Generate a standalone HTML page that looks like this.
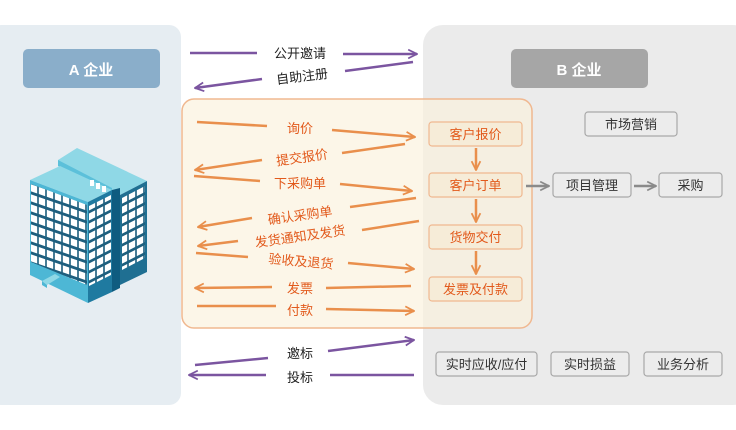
<!DOCTYPE html>
<html><head><meta charset="utf-8"><style>
html,body{margin:0;padding:0;background:#fff;}
svg{display:block;font-family:"Liberation Sans","Noto Sans CJK SC",sans-serif;}
</style></head><body>
<svg width="736" height="430" viewBox="0 0 736 430" xmlns="http://www.w3.org/2000/svg">
<defs>
<marker id="ao" viewBox="0 0 10 10" refX="9" refY="5" markerWidth="11" markerHeight="11" orient="auto" markerUnits="userSpaceOnUse"><path d="M1,1 L9,5 L1,9" fill="none" stroke="#e98f4c" stroke-width="1.6"/></marker>
<marker id="ap" viewBox="0 0 10 10" refX="9" refY="5" markerWidth="11" markerHeight="11" orient="auto" markerUnits="userSpaceOnUse"><path d="M1,1 L9,5 L1,9" fill="none" stroke="#7b55a0" stroke-width="1.6"/></marker>
<marker id="ag" viewBox="0 0 10 10" refX="9" refY="5" markerWidth="11" markerHeight="11" orient="auto" markerUnits="userSpaceOnUse"><path d="M1,1 L9,5 L1,9" fill="none" stroke="#8a8a8a" stroke-width="1.6"/></marker>
<pattern id="wl" width="8" height="10" patternUnits="userSpaceOnUse" patternTransform="translate(30,183) skewY(19)"><rect width="8" height="10" fill="#1e5f7e"/><rect x="0.8" y="1" width="6.4" height="7" fill="#fff"/></pattern>
<pattern id="wr" width="8" height="10" patternUnits="userSpaceOnUse" patternTransform="translate(88,203) skewY(-27)"><rect width="8" height="10" fill="#1e5f7e"/><rect x="0.8" y="1" width="6.4" height="7" fill="#fff"/></pattern>
</defs>
<rect x="-10" y="25" width="191" height="380" rx="12" fill="#e6edf2"/>
<rect x="423" y="25" width="330" height="380" rx="20" fill="#ebebeb"/>
<rect x="23" y="49" width="137" height="39" rx="5" fill="#8aaeca"/>
<text x="91" y="75" font-size="15" font-weight="bold" fill="#fff" text-anchor="middle">A 企业</text>
<rect x="511" y="49" width="137" height="39" rx="5" fill="#a6a6a6"/>
<text x="579" y="75" font-size="15" font-weight="bold" fill="#fff" text-anchor="middle">B 企业</text>
<rect x="182" y="99" width="350" height="229" rx="12" fill="#fbf1dc" fill-opacity="0.65" stroke="#f0b890" stroke-width="1.5"/>
<!-- building -->
<polygon points="58,160 77,148 147,181 120,195 112,190 58,163" fill="#8fd8e6"/>
<polygon points="58,160 58,166 112,194 112,188" fill="#5cc0da"/>
<polygon points="120,195 147,181 147,272 120,285" fill="#1f6f92"/>
<polygon points="122,198 145,186 145,258 122,270" fill="url(#wr)"/>
<polygon points="120,188 120,288 112,292 112,190" fill="#0f5c80"/>
<polygon points="30,180 60,166 112,190 88,202" fill="#8fd8e6"/>
<polygon points="30,180 88,202 88,303 30,275" fill="#4db7d5"/>
<polygon points="31,184 87,205 87,285 31,262" fill="url(#wl)"/>
<polygon points="88,202 112,190 112,292 88,303" fill="#1f7aa0"/>
<polygon points="89,206 111,195 111,275 89,286" fill="url(#wr)"/>
<rect x="90" y="180" width="4" height="6" fill="#fff"/><rect x="96" y="183" width="4" height="6" fill="#fff"/><rect x="102" y="186" width="4" height="6" fill="#fff"/>
<polygon points="42,281 55,274 60,277 47,285" fill="#8fd8e6"/>
<polygon points="42,281 47,285 47,288 42,285" fill="#4db7d5"/>
<g font-size="13" fill="#e25a1c" text-anchor="middle">
<rect x="429" y="122" width="93" height="24" rx="3" fill="#f6ecd8" stroke="#f0b890" stroke-width="1.2"/><text x="475.5" y="139">客户报价</text>
<rect x="429" y="173" width="93" height="24" rx="3" fill="#f6ecd8" stroke="#f0b890" stroke-width="1.2"/><text x="475.5" y="190">客户订单</text>
<rect x="429" y="225" width="93" height="24" rx="3" fill="#f6ecd8" stroke="#f0b890" stroke-width="1.2"/><text x="475.5" y="242">货物交付</text>
<rect x="429" y="277" width="93" height="24" rx="3" fill="#f6ecd8" stroke="#f0b890" stroke-width="1.2"/><text x="475.5" y="294">发票及付款</text>
</g>
<g stroke="#e98f4c" stroke-width="2.5" fill="none" marker-end="url(#ao)">
<line x1="476" y1="148" x2="476" y2="170"/>
<line x1="476" y1="199" x2="476" y2="222"/>
<line x1="476" y1="251" x2="476" y2="274"/>
</g>
<g font-size="13" fill="#333" text-anchor="middle">
<rect x="585" y="112" width="92" height="24" rx="3" fill="#ececec" stroke="#a8a8a8" stroke-width="1.2"/><text x="631" y="129">市场营销</text>
<rect x="553" y="173" width="78" height="24" rx="3" fill="#ececec" stroke="#a8a8a8" stroke-width="1.2"/><text x="592" y="190">项目管理</text>
<rect x="659" y="173" width="63" height="24" rx="3" fill="#ececec" stroke="#a8a8a8" stroke-width="1.2"/><text x="690.5" y="190">采购</text>
<rect x="436" y="352" width="101" height="24" rx="3" fill="#ececec" stroke="#a8a8a8" stroke-width="1.2"/><text x="486.5" y="369">实时应收/应付</text>
<rect x="551" y="352" width="78" height="24" rx="3" fill="#ececec" stroke="#a8a8a8" stroke-width="1.2"/><text x="590" y="369">实时损益</text>
<rect x="644" y="352" width="78" height="24" rx="3" fill="#ececec" stroke="#a8a8a8" stroke-width="1.2"/><text x="683" y="369">业务分析</text>
</g>
<g stroke="#8a8a8a" stroke-width="2.5" fill="none" marker-end="url(#ag)">
<line x1="526" y1="186" x2="549" y2="186"/>
<line x1="634" y1="186" x2="656" y2="186"/>
</g>
<g stroke="#7b55a0" stroke-width="2.5" fill="none">
<line x1="190" y1="53" x2="257" y2="53"/>
<line x1="343" y1="54" x2="417" y2="54" marker-end="url(#ap)"/>
<line x1="413" y1="62" x2="345" y2="71"/>
<line x1="262" y1="79" x2="195" y2="88" marker-end="url(#ap)"/>
<line x1="195" y1="365" x2="268" y2="358"/>
<line x1="328" y1="351" x2="414" y2="340" marker-end="url(#ap)"/>
<line x1="266" y1="375" x2="189" y2="375" marker-end="url(#ap)"/>
<line x1="330" y1="375" x2="414" y2="375"/>
</g>
<g font-size="13" fill="#222" text-anchor="middle">
<text x="300" y="58">公开邀请</text>
<text x="302" y="81" transform="rotate(-7 302 76)">自助注册</text>
<text x="300" y="358">邀标</text>
<text x="300" y="382">投标</text>
</g>
<g stroke="#e98f4c" stroke-width="2.5" fill="none">
<line x1="197" y1="122" x2="267" y2="126"/>
<line x1="332" y1="130" x2="415" y2="137" marker-end="url(#ao)"/>
<line x1="405" y1="144" x2="342" y2="153"/>
<line x1="262" y1="160" x2="195" y2="170" marker-end="url(#ao)"/>
<line x1="194" y1="176" x2="260" y2="181"/>
<line x1="340" y1="184" x2="412" y2="191" marker-end="url(#ao)"/>
<line x1="416" y1="198" x2="350" y2="207"/>
<line x1="252" y1="218" x2="198" y2="227" marker-end="url(#ao)"/>
<line x1="419" y1="221" x2="362" y2="230"/>
<line x1="238" y1="241" x2="198" y2="246" marker-end="url(#ao)"/>
<line x1="196" y1="253" x2="248" y2="257"/>
<line x1="348" y1="263" x2="414" y2="269" marker-end="url(#ao)"/>
<line x1="411" y1="286" x2="326" y2="288"/>
<line x1="272" y1="287" x2="195" y2="288" marker-end="url(#ao)"/>
<line x1="197" y1="306" x2="276" y2="306"/>
<line x1="326" y1="309" x2="414" y2="311" marker-end="url(#ao)"/>
</g>
<g font-size="13" fill="#e25a1c" text-anchor="middle">
<text x="300" y="133">询价</text>
<text x="302" y="162" transform="rotate(-8 302 157)">提交报价</text>
<text x="300" y="188">下采购单</text>
<text x="300" y="220" transform="rotate(-8 300 215)">确认采购单</text>
<text x="300" y="241" transform="rotate(-8 300 236)">发货通知及发货</text>
<text x="301" y="266" transform="rotate(5 301 261)">验收及退货</text>
<text x="300" y="293">发票</text>
<text x="300" y="315">付款</text>
</g>
</svg>
</body></html>
